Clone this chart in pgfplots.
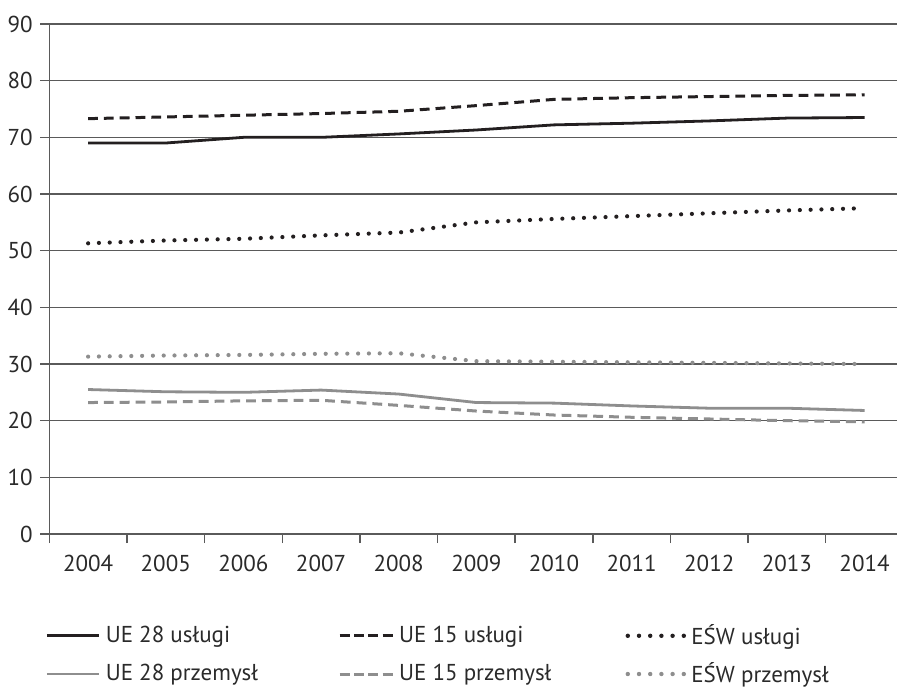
\documentclass[border=0pt]{standalone}
\usepackage{pgfplots}
\pgfplotsset{compat=1.18}
\usepackage{fontspec}
\setmainfont{PT Sans}
\definecolor{blk}{HTML}{231F20}
\definecolor{gry}{HTML}{8E8E8E}
\definecolor{gridc}{HTML}{5A5A5A}
\definecolor{txt}{HTML}{2A2A2A}
\pgfplotsset{
  legsolid/.style={legend image code/.code={\draw[##1] (0pt,0pt) -- (26.3pt,0pt);}},
  legdash/.style={legend image code/.code={\draw[##1, dash pattern=on 5pt off 2.15pt] (0pt,0pt) -- (26.45pt,0pt);}},
  legdot/.style={legend image code/.code={\draw[##1, line width=2.2pt, dash pattern=on 0pt off 5.6pt] (0pt,0pt) -- (28.2pt,0pt);}},
}
\begin{document}
\begin{tikzpicture}
\path[use as bounding box] (-24.65pt,-76.5pt) rectangle (423.85pt,267pt);
\begin{axis}[
  scale only axis, width=423.85pt, height=255pt,
  xmin=-0.5, xmax=10.418, ymin=0, ymax=90,
  axis x line*=bottom, axis y line*=left,
  axis line style={gridc, line width=0.7pt},
  /pgf/number format/assume math mode=true,
  xtick={0,...,10},
  xticklabels={2004,2005,2006,2007,2008,2009,2010,2011,2012,2013,2014},
  minor xtick={-0.5,0.5,...,9.5},
  ytick={0,10,...,90},
  minor ytick={0,10,...,90},
  major tick length=0pt, minor tick length=4.5pt,
  tick align=outside,
  tick style={gridc, line width=0.7pt},
  ymajorgrids, grid style={gridc, line width=0.6pt},
  ticklabel style={font=\fontsize{11.5}{13}\selectfont, text=txt},
  yticklabel style={xshift=-4.8pt},
  xticklabel style={yshift=-7pt},
  legend columns=3,
  legend cell align=left,
  legend style={draw=none, fill=none, inner sep=0pt, at={(axis description cs:-0.00507,-0.1743)}, anchor=north west,
    font=\fontsize{11.5}{13}\selectfont, text=txt,
    nodes={inner xsep=2.5pt, inner ysep=0.5pt},
    row sep=6.6pt, column sep=0pt},
]
\addplot[blk, line width=1.4pt, legsolid] coordinates {(0,69.0) (1,69.0) (2,70.0) (3,70.0) (4,70.6) (5,71.3) (6,72.2) (7,72.5) (8,72.9) (9,73.4) (10,73.5)};
\addlegendentry{\makebox[113.7pt][l]{UE 28 usługi}}
\addplot[blk, line width=1.5pt, dash pattern=on 4.9pt off 3pt, legdash] coordinates {(0,73.3) (1,73.6) (2,73.9) (3,74.2) (4,74.6) (5,75.6) (6,76.7) (7,77.0) (8,77.2) (9,77.4) (10,77.5)};
\addlegendentry{\makebox[110.75pt][l]{UE 15 usługi}}
\addplot[blk, line width=2.1pt, line cap=round, dash pattern=on 0pt off 5.4pt, legdot] coordinates {(0,51.3) (1,51.8) (2,52.1) (3,52.7) (4,53.2) (5,55.0) (6,55.6) (7,56.1) (8,56.6) (9,57.1) (10,57.5)};
\addlegendentry{EŚW usługi}
\addplot[gry, line width=1.4pt, legsolid] coordinates {(0,25.5) (1,25.1) (2,25.0) (3,25.4) (4,24.7) (5,23.2) (6,23.1) (7,22.6) (8,22.2) (9,22.2) (10,21.8)};
\addlegendentry{\makebox[113.7pt][l]{UE 28 przemysł}}
\addplot[gry, line width=1.5pt, dash pattern=on 4.9pt off 3pt, legdash] coordinates {(0,23.2) (1,23.3) (2,23.5) (3,23.6) (4,22.7) (5,21.7) (6,21.0) (7,20.6) (8,20.3) (9,20.0) (10,19.8)};
\addlegendentry{\makebox[110.75pt][l]{UE 15 przemysł}}
\addplot[gry, line width=2.1pt, line cap=round, dash pattern=on 0pt off 5.4pt, legdot] coordinates {(0,31.3) (1,31.5) (2,31.6) (3,31.8) (4,31.9) (5,30.5) (6,30.4) (7,30.3) (8,30.2) (9,30.1) (10,30.0)};
\addlegendentry{EŚW przemysł}
\end{axis}
\end{tikzpicture}
\end{document}
